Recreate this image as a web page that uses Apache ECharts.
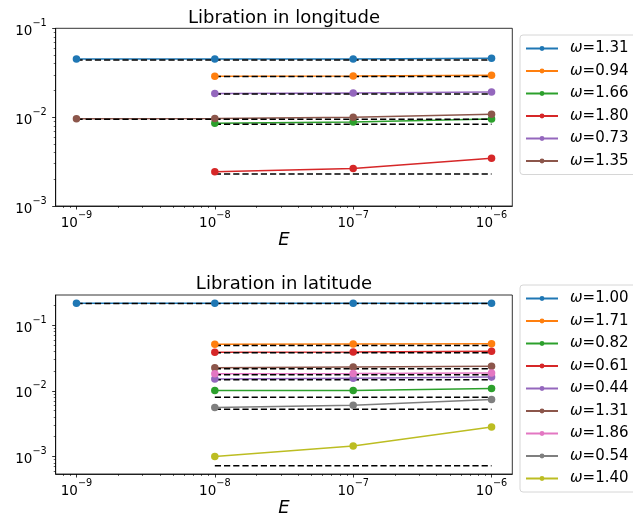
<!DOCTYPE html>
<html><head><meta charset="utf-8">
<script src="https://cdn.jsdelivr.net/npm/echarts@6/dist/echarts.min.js"></script>
<style>html,body{margin:0;padding:0;background:#fff}#c{width:633px;height:518px}</style>
</head><body><div id="c"></div>
<script>
// ---------- data ----------
const E = [1e-9, 1e-8, 1e-7, 1e-6];
const xTickVals = [1e-9, 1e-8, 1e-7, 1e-6];
const lonYTicks = [1e-3, 1e-2, 1e-1];
const latYTicks = [1e-3, 1e-2, 1e-1];

// Libration in longitude
const lonNames = ['1.31', '0.94', '1.66', '1.80', '0.73', '1.35'];
const lonW131 = [0.0452, 0.0451, 0.0451, 0.0459];
const lonW094 = [null, 0.0288, 0.0290, 0.0296];
const lonW166 = [null, 0.00853, 0.00881, 0.00953];
const lonW180 = [null, 0.00243, 0.00265, 0.00344];
const lonW073 = [null, 0.0185, 0.0187, 0.0192];
const lonW135 = [0.00962, 0.00968, 0.00995, 0.01076];
const lonRef = [0.0440, 0.0286, 0.00832, 0.00229, 0.01824, 0.00946];

// Libration in latitude
const latNames = ['1.00', '1.71', '0.82', '0.61', '0.44', '1.31', '1.86', '0.54', '1.40'];
const latW100 = [0.217, 0.217, 0.217, 0.217];
const latW171 = [null, 0.0512, 0.0519, 0.0524];
const latW082 = [null, 0.0101, 0.0101, 0.01084];
const latW061 = [null, 0.0386, 0.0391, 0.0400];
const latW044 = [null, 0.0151, 0.0156, 0.0162];
const latW131 = [null, 0.0225, 0.0231, 0.0236];
const latW186 = [null, 0.0182, 0.0184, 0.0187];
const latW054 = [null, 0.00555, 0.00604, 0.00736];
const latW140 = [null, 0.00100, 0.00144, 0.00281];
const latRef = [0.215, 0.0489, 0.0080, 0.0382, 0.0147, 0.0217, 0.0176, 0.00524, 0.000718];

const colors = ['#1f77b4', '#ff7f0e', '#2ca02c', '#d62728', '#9467bd', '#8c564b', '#e377c2', '#7f7f7f', '#bcbd22'];

// ---------- helpers ----------
const F = '"DejaVu Sans", sans-serif';
const xMin = Math.pow(10, -9.15), xMax = Math.pow(10, -5.85);
const lonYMin = 1e-3, lonYMax = 1e-1;
const latYMin = Math.pow(10, -3.268), latYMax = Math.pow(10, -0.539);

function minorTicks(lo, hi) {
  const out = [];
  for (let d = Math.floor(Math.log10(lo)) - 1; d <= Math.ceil(Math.log10(hi)); d++) {
    for (let k = 2; k <= 9; k++) {
      const v = k * Math.pow(10, d);
      if (v >= lo && v <= hi) out.push(v);
    }
  }
  return out;
}
function powLabel(v) {
  const e = Math.round(Math.log10(v));
  return '{b|10}{s|' + (e < 0 ? '\u2212' : '') + Math.abs(e) + '}';
}
const powRich = {
  b: { fontSize: 13.5, lineHeight: 20, verticalAlign: 'bottom', fontFamily: F, color: '#000' },
  s: { fontSize: 9.7, lineHeight: 11, verticalAlign: 'top', fontFamily: F, color: '#000' }
};

function majorX(g) {
  return {
    type: 'log', gridIndex: g, min: xMin, max: xMax, position: 'bottom',
    name: 'E', nameLocation: 'middle', nameGap: 24,
    nameTextStyle: { fontSize: 18, fontStyle: 'italic', fontFamily: F, color: '#000', verticalAlign: 'top' },
    axisLine: { show: true, lineStyle: { color: '#000', width: 0.8 } },
    axisTick: { show: true, inside: false, length: 3.5, lineStyle: { color: '#000', width: 0.8 }, customValues: xTickVals },
    axisLabel: { show: true, customValues: xTickVals, formatter: powLabel, rich: powRich, margin: 4, color: '#000' },
    splitLine: { show: false }, minorTick: { show: false }, minorSplitLine: { show: false }
  };
}
function minorX(g) {
  return {
    type: 'log', gridIndex: g, min: xMin, max: xMax, position: 'bottom', offset: 0,
    axisLine: { show: false },
    axisTick: { show: true, inside: false, length: 2, lineStyle: { color: '#000', width: 0.6 }, customValues: minorTicks(xMin, xMax) },
    axisLabel: { show: false }, splitLine: { show: false }
  };
}
function majorY(g, lo, hi, ticks) {
  return {
    type: 'log', gridIndex: g, min: lo, max: hi, position: 'left',
    axisLine: { show: true, lineStyle: { color: '#000', width: 0.8 } },
    axisTick: { show: true, inside: false, length: 3.5, lineStyle: { color: '#000', width: 0.8 }, customValues: ticks },
    axisLabel: { show: true, customValues: ticks, formatter: powLabel, rich: powRich, margin: 9, color: '#000' },
    splitLine: { show: false }, minorTick: { show: false }, minorSplitLine: { show: false }
  };
}
function minorY(g, lo, hi) {
  return {
    type: 'log', gridIndex: g, min: lo, max: hi, position: 'left', offset: 0,
    axisLine: { show: false },
    axisTick: { show: true, inside: false, length: 2, lineStyle: { color: '#000', width: 0.6 }, customValues: minorTicks(lo, hi) },
    axisLabel: { show: false }, splitLine: { show: false }
  };
}

const series = [];
function addPanel(prefix, names, valuesList, refs, g) {
  valuesList.forEach((vals, i) => {
    const pts = [];
    vals.forEach((v, j) => { if (v != null) pts.push([E[j], v]); });
    series.push({
      name: prefix + names[i], type: 'line', xAxisIndex: 2 * g, yAxisIndex: 2 * g,
      data: pts, symbol: 'circle', symbolSize: 7.5, showSymbol: true,
      color: colors[i], lineStyle: { width: 1.5, color: colors[i] }, itemStyle: { color: colors[i] },
      animation: false, silent: true
    });
    series.push({
      name: prefix + 'ref' + i, type: 'line', xAxisIndex: 2 * g, yAxisIndex: 2 * g,
      data: [[pts[0][0], refs[i]], [E[E.length - 1], refs[i]]],
      symbol: 'none', lineStyle: { width: 1.5, color: '#000', type: [6.2, 3] },
      animation: false, silent: true
    });
  });
}
addPanel('lon', lonNames, [lonW131, lonW094, lonW166, lonW180, lonW073, lonW135], lonRef, 0);
addPanel('lat', latNames, [latW100, latW171, latW082, latW061, latW044, latW131, latW186, latW054, latW140], latRef, 1);

function legendCfg(prefix, names, top) {
  return {
    data: names.map(n => prefix + n), orient: 'vertical', left: 520, top: top,
    itemWidth: 32, itemHeight: 6, itemGap: 7.5,
    padding: [6, 30, 6, 5],
    backgroundColor: '#fff', borderColor: '#d6d6d6', borderWidth: 1, borderRadius: 3,
    formatter: name => '{w|\u03c9}{t|=' + name.slice(3) + '}',
    textStyle: {
      color: '#000', fontSize: 15, fontFamily: F,
      rich: {
        w: { fontSize: 15, fontStyle: 'italic', fontFamily: F, color: '#000', lineHeight: 15, padding: [0, 0, 0, 7] },
        t: { fontSize: 15, fontFamily: F, color: '#000', lineHeight: 15 }
      }
    },
    selectedMode: false
  };
}

const option = {
  animation: false,
  backgroundColor: '#fff',
  grid: [
    { left: 55.7, top: 28.3, width: 456.6, height: 177.7, show: true, borderColor: '#000', borderWidth: 0.8, backgroundColor: '#fff', containLabel: false },
    { left: 55.7, top: 295, width: 456.6, height: 179, show: true, borderColor: '#000', borderWidth: 0.8, backgroundColor: '#fff', containLabel: false }
  ],
  xAxis: [majorX(0), minorX(0), majorX(1), minorX(1)],
  yAxis: [majorY(0, lonYMin, lonYMax, lonYTicks), minorY(0, lonYMin, lonYMax), majorY(1, latYMin, latYMax, latYTicks), minorY(1, latYMin, latYMax)],
  legend: [legendCfg('lon', lonNames, 35), legendCfg('lat', latNames, 285)],
  graphic: [
    { type: 'text', x: 284, y: 18.5, style: { text: 'Libration in longitude', font: '18px "DejaVu Sans"', fill: '#000', align: 'center', verticalAlign: 'middle' } },
    { type: 'text', x: 284, y: 284.6, style: { text: 'Libration in latitude', font: '18px "DejaVu Sans"', fill: '#000', align: 'center', verticalAlign: 'middle' } }
  ],
  series: series
};
const chart = echarts.init(document.getElementById('c'), null, { renderer: 'canvas' });
chart.setOption(option);
</script></body></html>
